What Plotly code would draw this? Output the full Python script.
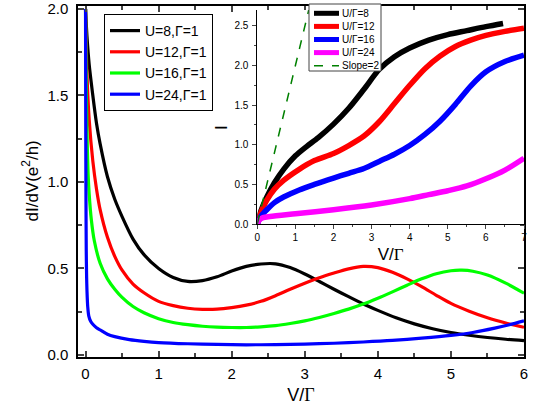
import plotly.graph_objects as go

# ---------------- main panel data: dI/dV vs V/Gamma ----------------
v_u8 = [0, 0.02, 0.05, 0.1, 0.15, 0.2, 0.3, 0.4, 0.5, 0.65, 0.8, 1.0, 1.2, 1.4, 1.6, 1.8, 2.0, 2.2,
        2.4, 2.6, 2.8, 3.0, 3.2, 3.4, 3.6, 3.8, 4.0, 4.25, 4.5, 4.75, 5.0, 5.25, 5.5, 5.75, 6.0]
g_u8 = [2.0, 1.84, 1.68, 1.50, 1.34, 1.22, 1.03, 0.90, 0.80, 0.67, 0.58, 0.50, 0.448, 0.425, 0.43, 0.452,
        0.485, 0.512, 0.526, 0.527, 0.505, 0.468, 0.425, 0.38, 0.337, 0.295, 0.258, 0.215, 0.18, 0.152,
        0.13, 0.114, 0.101, 0.091, 0.083]

v_u12 = [0, 0.02, 0.05, 0.1, 0.15, 0.2, 0.3, 0.4, 0.5, 0.65, 0.8, 1.0, 1.2, 1.4, 1.6, 1.8, 2.0, 2.2,
         2.4, 2.6, 2.8, 3.0, 3.2, 3.4, 3.6, 3.8, 4.0, 4.2, 4.4, 4.6, 4.8, 5.0, 5.25, 5.5, 5.75, 6.0]
g_u12 = [2.0, 1.62, 1.36, 1.12, 0.96, 0.84, 0.68, 0.57, 0.49, 0.41, 0.36, 0.31, 0.285, 0.27, 0.264, 0.265,
         0.274, 0.288, 0.31, 0.343, 0.38, 0.415, 0.447, 0.474, 0.498, 0.512, 0.505, 0.478, 0.44, 0.395,
         0.345, 0.298, 0.253, 0.215, 0.185, 0.16]

v_u16 = [0, 0.01, 0.02, 0.035, 0.05, 0.08, 0.12, 0.2, 0.3, 0.4, 0.5, 0.65, 0.8, 1.0, 1.2, 1.4, 1.6,
         1.8, 2.0, 2.2, 2.4, 2.6, 2.8, 3.0, 3.2, 3.4, 3.6, 3.8, 4.0, 4.2, 4.4, 4.6, 4.8, 5.0, 5.15,
         5.3, 5.5, 5.75, 6.0]
g_u16 = [2.0, 1.55, 1.28, 1.05, 0.93, 0.78, 0.66, 0.53, 0.44, 0.38, 0.333, 0.28, 0.244, 0.21, 0.188,
         0.175, 0.166, 0.161, 0.159, 0.159, 0.163, 0.17, 0.182, 0.197, 0.217, 0.24, 0.265, 0.294, 0.328,
         0.365, 0.403, 0.44, 0.47, 0.487, 0.49, 0.484, 0.462, 0.415, 0.357]

v_u24 = [0, 0.003, 0.006, 0.01, 0.015, 0.02, 0.03, 0.045, 0.07, 0.1, 0.15, 0.2, 0.3, 0.4, 0.6, 0.8,
         1.0, 1.4, 1.8, 2.2, 2.6, 3.0, 3.4, 3.8, 4.2, 4.6, 5.0, 5.3, 5.6, 5.8, 6.0]
g_u24 = [2.0, 1.3, 0.9, 0.6, 0.45, 0.37, 0.28, 0.225, 0.195, 0.178, 0.158, 0.145, 0.12, 0.106, 0.089,
         0.079, 0.072, 0.065, 0.061, 0.059, 0.06, 0.063, 0.068, 0.075, 0.084, 0.097, 0.113, 0.13, 0.155,
         0.175, 0.198]

main_names = ["U=8,Γ=1", "U=12,Γ=1", "U=16,Γ=1", "U=24,Γ=1"]
main_colors = ["#000000", "#FF0000", "#00FF00", "#0000FF"]

# ---------------- inset data: I vs V/Gamma ----------------
iv_8 = [0, 0.1, 0.25, 0.45, 0.69, 1.0, 1.3, 1.6, 2.0, 2.4, 2.8, 3.2, 3.6, 4.0, 4.5, 5.0, 5.5, 6.0, 6.45]
ii_8 = [0, 0.17, 0.34, 0.52, 0.69, 0.86, 0.98, 1.09, 1.26, 1.46, 1.70, 1.95, 2.11, 2.22, 2.32, 2.39,
        2.44, 2.49, 2.53]

iv_12 = [0, 0.1, 0.25, 0.45, 0.69, 1.1, 1.5, 2.0, 2.4, 2.8, 3.2, 3.6, 4.0, 4.4, 4.8, 5.2, 5.6, 6.0, 6.5, 7.0]
ii_12 = [0, 0.15, 0.30, 0.44, 0.55, 0.69, 0.80, 0.89, 0.99, 1.11, 1.29, 1.52, 1.75, 1.96, 2.12, 2.24,
         2.32, 2.38, 2.43, 2.47]

iv_16 = [0, 0.1, 0.25, 0.45, 0.69, 1.1, 1.5, 2.0, 2.4, 2.8, 3.2, 3.6, 4.0, 4.4, 4.8, 5.2, 5.6, 6.0, 6.5, 7.0]
ii_16 = [0, 0.10, 0.18, 0.27, 0.34, 0.43, 0.50, 0.58, 0.64, 0.70, 0.79, 0.88, 0.99, 1.13, 1.30, 1.51,
         1.74, 1.92, 2.05, 2.13]

iv_24 = [0, 0.05, 0.15, 0.33, 1.0, 2.0, 3.0, 4.0, 4.5, 5.0, 5.5, 6.0, 6.5, 7.0]
ii_24 = [0, 0.05, 0.08, 0.095, 0.13, 0.18, 0.24, 0.32, 0.37, 0.42, 0.48, 0.57, 0.68, 0.83]

slope_v = [0, 1.35]
slope_i = [0, 2.70]

inset_names = ["U/Γ=8", "U/Γ=12", "U/Γ=16", "U/Γ=24", "Slope=2"]
inset_colors = ["#000000", "#FF0000", "#0000FF", "#FF00FF", "#008000"]

FONT = "Arial, Liberation Sans, sans-serif"
W, H = 542, 411
ML, MR, MT, MB = 78, 18, 6, 54
PW, PH = W - ML - MR, H - MT - MB


def px2paper(px, py):
    return (px - ML) / PW, (H - MB - py) / PH


fig = go.Figure()

main_v = [v_u8, v_u12, v_u16, v_u24]
main_g = [g_u8, g_u12, g_u16, g_u24]
for v, g, n, c in zip(main_v, main_g, main_names, main_colors):
    fig.add_trace(go.Scatter(x=v, y=g, name=n, mode="lines",
                             line=dict(color=c, width=3.2, shape="spline", smoothing=0.8),
                             xaxis="x", yaxis="y", legend="legend"))

inset_v = [iv_8, iv_12, iv_16, iv_24]
inset_i = [ii_8, ii_12, ii_16, ii_24]
for v, i, n, c in zip(inset_v, inset_i, inset_names[:4], inset_colors[:4]):
    fig.add_trace(go.Scatter(x=v, y=i, name=n, mode="lines", showlegend=False,
                             line=dict(color=c, width=5.5, shape="spline", smoothing=0.8),
                             xaxis="x2", yaxis="y2"))
fig.add_trace(go.Scatter(x=slope_v, y=slope_i, name=inset_names[4], mode="lines", showlegend=False,
                         line=dict(color=inset_colors[4], width=1.5, dash="dash"),
                         xaxis="x2", yaxis="y2"))

# ---------------- inset legend (box, samples, labels) ----------------
shapes = []
annotations = []
bx0, by0 = px2paper(309, 4)
bx1, by1 = px2paper(381, 71)
shapes.append(dict(type="rect", xref="paper", yref="paper", x0=bx0, y0=by1, x1=bx1, y1=by0,
                   line=dict(color="#444444", width=1), fillcolor="white", layer="above"))
for k, (n, c) in enumerate(zip(inset_names, inset_colors)):
    yc = 13.3 + 13.1 * k
    sx0, sy = px2paper(314, yc)
    sx1, _ = px2paper(339, yc)
    if k < 4:
        shapes.append(dict(type="line", xref="paper", yref="paper", x0=sx0, x1=sx1, y0=sy, y1=sy,
                           line=dict(color=c, width=5), layer="above"))
    else:
        shapes.append(dict(type="line", xref="paper", yref="paper", x0=sx0, x1=sx1, y0=sy, y1=sy,
                           line=dict(color=c, width=1.5, dash="dash"), layer="above"))
    tx, _ = px2paper(340, yc)
    annotations.append(dict(text=n, xref="paper", yref="paper", x=tx, y=sy, xanchor="left",
                            yanchor="middle", showarrow=False, font=dict(family=FONT, size=10, color="black")))

# y-axis titles placed as rotated text
ytx, yty = px2paper(30, 181.5)
annotations.append(dict(text="dI/dV(e<sup>2</sup>/h)", xref="paper", yref="paper", x=ytx, y=yty,
                        xanchor="center", yanchor="middle", textangle=-90, showarrow=False,
                        font=dict(family=FONT, size=17, color="black")))
itx, ity = px2paper(221, 128)
annotations.append(dict(text="I", xref="paper", yref="paper", x=itx, y=ity,
                        xanchor="center", yanchor="middle", textangle=-90, showarrow=False,
                        font=dict(family=FONT, size=17, color="black")))

gam = "<span style='font-family:Liberation Serif, Times New Roman, serif'>Γ</span>"

lx, ly = px2paper(104, 14)
fig.update_layout(
    width=W, height=H,
    margin=dict(l=ML, r=MR, t=MT, b=MB, autoexpand=False),
    paper_bgcolor="white", plot_bgcolor="white",
    font=dict(family=FONT, size=15, color="black"),
    showlegend=True,
    legend=dict(x=lx, y=ly, xanchor="left", yanchor="top", bgcolor="white",
                bordercolor="black", borderwidth=1, font=dict(family=FONT, size=14),
                itemwidth=30, tracegroupgap=0),
    xaxis=dict(domain=[0, 1], range=[-0.103, 6.0], tickvals=[0, 1, 2, 3, 4, 5, 6],
               ticks="inside", ticklen=6, tickwidth=1.5, showline=True, linecolor="black", linewidth=1.5,
               mirror="ticks", showgrid=False, zeroline=False,
               minor=dict(ticks="inside", dtick=0.5, tick0=0, ticklen=4, tickwidth=1.5, showgrid=False),
               tickfont=dict(size=15), ticklabelstandoff=2,
               title=dict(text="V/" + gam, font=dict(size=18), standoff=8)),
    yaxis=dict(domain=[0, 1], range=[-0.0116, 2.017], tickvals=[0, 0.5, 1.0, 1.5, 2.0], tickformat=".1f",
               ticks="inside", ticklen=6, tickwidth=1.5, showline=True, linecolor="black", linewidth=1.5,
               mirror="ticks", showgrid=False, zeroline=False,
               minor=dict(ticks="inside", dtick=0.25, tick0=0, ticklen=4, tickwidth=1.5, showgrid=False),
               tickfont=dict(size=15), ticklabelstandoff=5),
    xaxis2=dict(domain=[(257.3 - ML) / PW, 1.0], range=[0, 7], anchor="y2",
                tickvals=[0, 1, 2, 3, 4, 5, 6, 7], ticks="outside", ticklen=4, tickwidth=1,
                showline=True, linecolor="black", linewidth=1, mirror=False, showgrid=False, zeroline=False,
                minor=dict(ticks="outside", dtick=0.5, tick0=0, ticklen=2, tickwidth=1, showgrid=False),
                tickfont=dict(size=10), ticklabelstandoff=0,
                title=dict(text="V/" + gam, font=dict(size=17), standoff=6)),
    yaxis2=dict(domain=[(H - MB - 224) / PH, (H - MB - 10) / PH], range=[0, 2.70], anchor="x2",
                tickvals=[0, 0.5, 1.0, 1.5, 2.0, 2.5], tickformat=".1f", ticks="outside", ticklen=4, tickwidth=1,
                showline=True, linecolor="black", linewidth=1, mirror=False, showgrid=False, zeroline=False,
                minor=dict(ticks="outside", dtick=0.25, tick0=0, ticklen=2, tickwidth=1, showgrid=False),
                tickfont=dict(size=10), ticklabelstandoff=2),
    shapes=shapes,
    annotations=annotations,
)

fig.write_html("out.html", config={"displayModeBar": False},
               post_script="document.body.style.margin='0px';")
